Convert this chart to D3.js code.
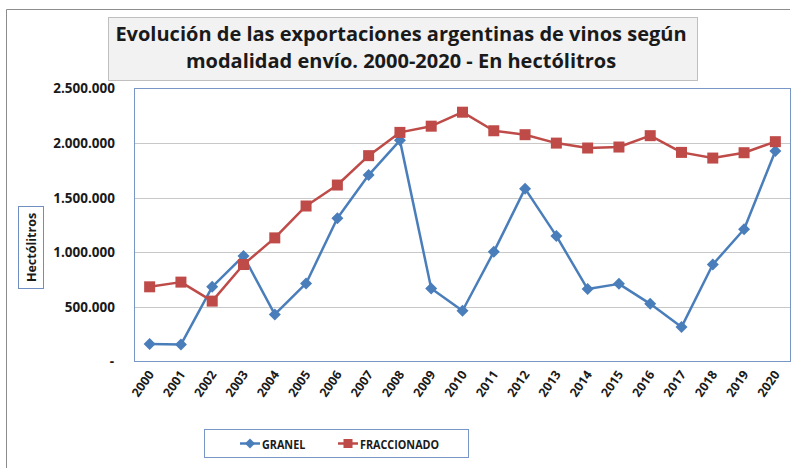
<!DOCTYPE html>
<html>
<head>
<meta charset="utf-8">
<script src="https://cdn.jsdelivr.net/npm/d3@7"></script>
<style>
  body { margin: 0; background: #fff; }
  svg { display: block; font-family: "Open Sans", "Liberation Sans", sans-serif; }
</style>
</head>
<body>
<div id="chart"></div>
<script>
// data
const years = ["2000","2001","2002","2003","2004","2005","2006","2007","2008","2009","2010",
               "2011","2012","2013","2014","2015","2016","2017","2018","2019","2020"];
const granel = [160000, 155000, 684000, 967000, 431000, 715000, 1312000, 1707000, 2025000, 669000, 465000,
                1004000, 1583000, 1150000, 663000, 711000, 528000, 315000, 888000, 1211000, 1927000];
const fraccionado = [684000, 727000, 553000, 888000, 1132000, 1424000, 1616000, 1885000, 2098000, 2155000, 2283000,
                     2113000, 2077000, 2000000, 1955000, 1964000, 2068000, 1915000, 1863000, 1912000, 2013000];
const yTicks = [0, 500000, 1000000, 1500000, 2000000, 2500000];
const titleLines = ["Evolución de las exportaciones argentinas de vinos según",
                    "modalidad envío. 2000-2020 - En hectólitros"];

const width = 796, height = 468;
const plot = { left: 134, right: 791, top: 88.5, bottom: 361.5 };

const svg = d3.select("#chart").append("svg")
    .attr("width", width)
    .attr("height", height);

// outer chart border (cropped on right/bottom)
svg.append("path")
    .attr("d", `M6.5,${height} V9.5 H790`)
    .attr("fill", "none")
    .attr("stroke", "#8c8c8c")
    .attr("stroke-width", 1);

// scales
const x = d3.scaleBand().domain(years).range([plot.left, plot.right]).padding(0);
const cx = d => x(d) + x.bandwidth() / 2;
const y = d3.scaleLinear().domain([0, 2500000]).range([plot.bottom, plot.top]);

const fmt = d3.formatLocale({ decimal: ",", thousands: ".", grouping: [3], currency: ["$", ""] }).format(",d");

// gridlines
svg.append("g")
    .selectAll("line")
    .data(yTicks.filter(t => t > 0 && t < 2500000))
    .join("line")
    .attr("x1", plot.left).attr("x2", plot.right)
    .attr("y1", d => Math.round(y(d)) + 0.5).attr("y2", d => Math.round(y(d)) + 0.5)
    .attr("stroke", "#c8c8c8")
    .attr("stroke-width", 1.2);

// plot area border
svg.append("rect")
    .attr("x", plot.left + 0.5).attr("y", plot.top)
    .attr("width", plot.right - plot.left - 1).attr("height", plot.bottom - plot.top)
    .attr("fill", "none")
    .attr("stroke", "#7896c6")
    .attr("stroke-width", 1);

// y axis labels
const yAxis = svg.append("g")
    .attr("transform", `translate(115,0)`)
    .call(d3.axisLeft(y).tickValues(yTicks).tickSize(0).tickPadding(0)
        .tickFormat(d => d === 0 ? "-" : fmt(d)));
yAxis.select(".domain").remove();
yAxis.selectAll("text")
    .attr("font-family", "'Open Sans', sans-serif")
    .attr("font-size", "13.5px")
    .attr("font-weight", "bold")
    .attr("fill", "#1a1a1a");
yAxis.selectAll(".tick").filter(d => d === 0).select("text").attr("x", -1);

// x axis labels
const xAxis = svg.append("g")
    .attr("transform", `translate(0,${plot.bottom})`)
    .call(d3.axisBottom(x).tickSize(0).tickPadding(0));
xAxis.select(".domain").remove();
xAxis.selectAll("text")
    .attr("font-family", "'Open Sans', sans-serif")
    .attr("font-size", "12.5px")
    .attr("font-weight", "bold")
    .attr("fill", "#1a1a1a")
    .attr("text-anchor", "end")
    .attr("dy", null)
    .attr("y", 0)
    .attr("transform", "translate(5,13) rotate(-55)");

// y axis title with box
svg.append("rect")
    .attr("x", 18.5).attr("y", 206.5).attr("width", 25).attr("height", 82)
    .attr("fill", "#fff").attr("stroke", "#6f8fc2").attr("stroke-width", 1);
svg.append("text")
    .attr("transform", "translate(36,247.5) rotate(-90)")
    .attr("text-anchor", "middle")
    .attr("font-size", "12.5px")
    .attr("font-weight", "bold")
    .attr("fill", "#1a1a1a")
    .text("Hectólitros");

// lines and markers
const line = d3.line().x((d, i) => cx(years[i])).y(d => y(d));

const series = [
    { name: "GRANEL", values: granel, color: "#4a7ebb", marker: "diamond" },
    { name: "FRACCIONADO", values: fraccionado, color: "#be4b48", marker: "square" }
];

function drawMarker(g, type, color) {
    if (type === "diamond") {
        g.append("path").attr("d", "M0,-6 L6,0 L0,6 L-6,0 Z").attr("fill", color);
    } else {
        g.append("rect").attr("x", -5.5).attr("y", -5.5).attr("width", 11).attr("height", 11).attr("fill", color);
    }
}

series.forEach(s => {
    svg.append("path")
        .datum(s.values)
        .attr("d", line)
        .attr("fill", "none")
        .attr("stroke", s.color)
        .attr("stroke-width", 2.5)
        .attr("stroke-linejoin", "round");
});
series.forEach(s => {
    svg.append("g").selectAll("g")
        .data(s.values)
        .join("g")
        .attr("transform", (d, i) => `translate(${cx(years[i])},${y(d)})`)
        .each(function () { drawMarker(d3.select(this), s.marker, s.color); });
});

// title box
const titleBox = svg.append("g");
titleBox.append("rect")
    .attr("x", 108.5).attr("y", 17.5).attr("width", 589).attr("height", 63)
    .attr("fill", "#f2f2f2").attr("stroke", "#bfbfbf").attr("stroke-width", 1);
titleLines.forEach((t, i) => {
    titleBox.append("text")
        .attr("x", 401).attr("y", 41 + i * 27)
        .attr("text-anchor", "middle")
        .attr("font-size", "20px")
        .attr("font-weight", "bold")
        .attr("fill", "#1a1a1a")
        .text(t);
});

// legend
const legend = svg.append("g");
legend.append("rect")
    .attr("x", 204.5).attr("y", 429.5).attr("width", 264).attr("height", 28)
    .attr("fill", "#fff").attr("stroke", "#7896c6").attr("stroke-width", 1);
const legendX = [240, 338];
series.forEach((s, i) => {
    const lg = legend.append("g").attr("transform", `translate(${legendX[i]},443.5)`);
    lg.append("line").attr("x1", 0).attr("x2", 20).attr("stroke", s.color).attr("stroke-width", 2.5);
    const m = lg.append("g").attr("transform", "translate(10,0)");
    if (s.marker === "diamond") {
        m.append("path").attr("d", "M0,-5 L5,0 L0,5 L-5,0 Z").attr("fill", s.color);
    } else {
        m.append("rect").attr("x", -4.5).attr("y", -4.5).attr("width", 9).attr("height", 9).attr("fill", s.color);
    }
    lg.append("text")
        .attr("transform", "translate(22,5) scale(0.83,1)")
        .attr("font-size", "13px")
        .attr("font-weight", "bold")
        .attr("fill", "#1a1a1a")
        .text(s.name);
});
</script>
</body>
</html>
